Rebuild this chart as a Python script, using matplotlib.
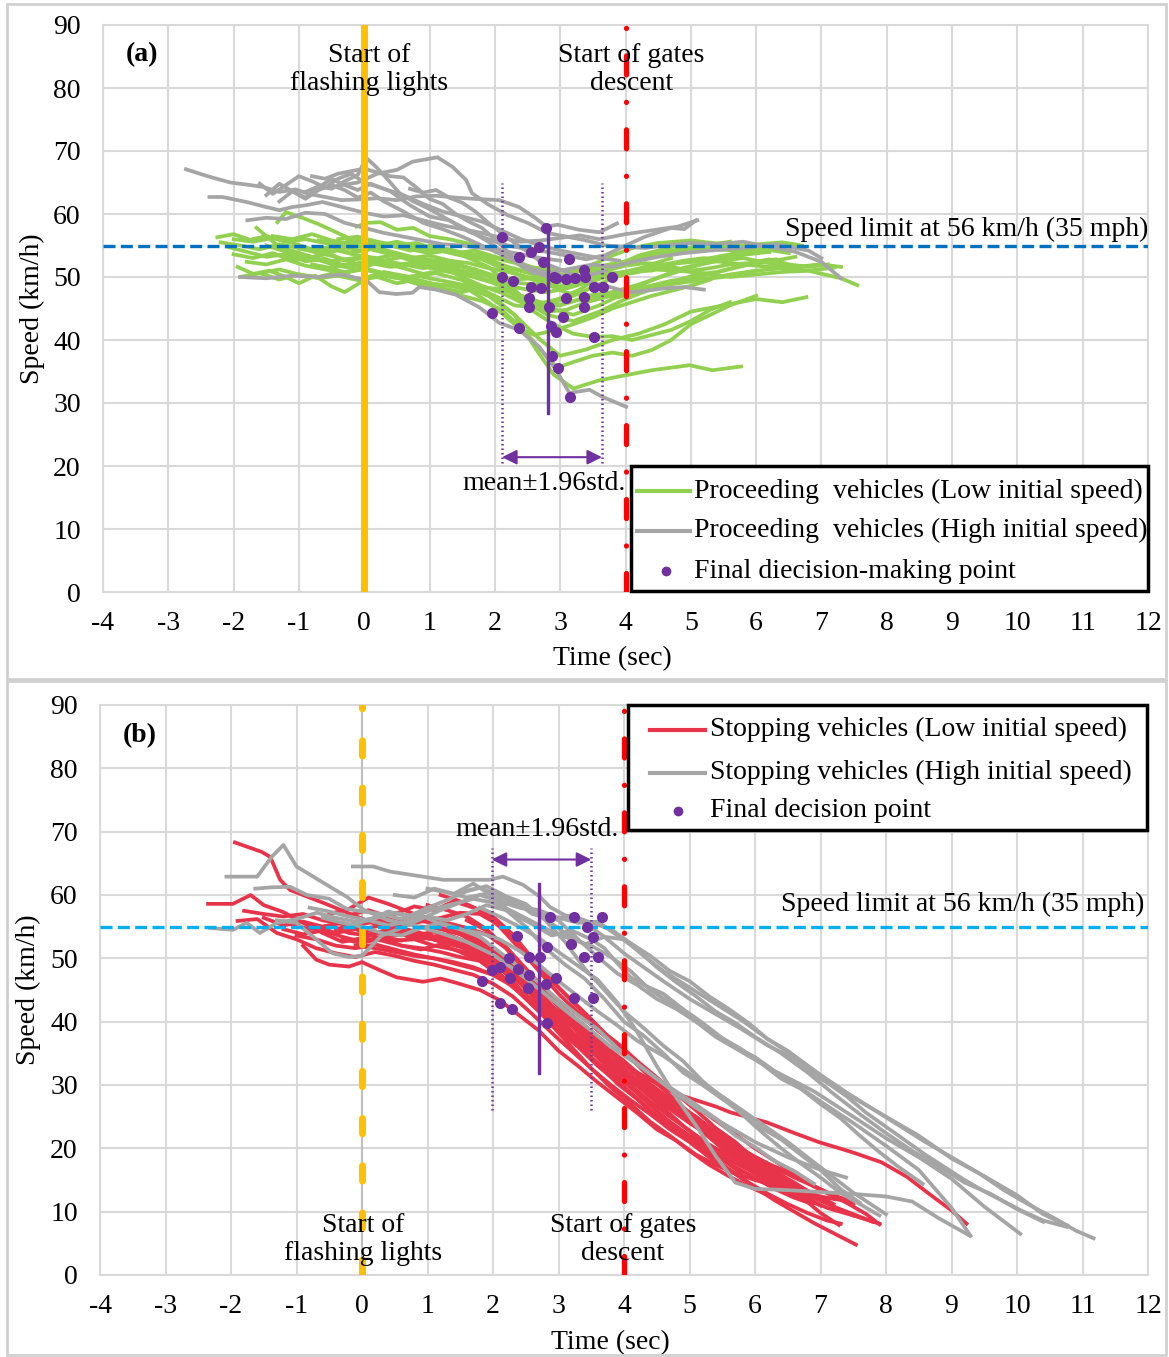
import matplotlib
matplotlib.use('Agg')
import matplotlib.pyplot as plt
from matplotlib.patches import Rectangle

plt.rcParams['font.family'] = ['Liberation Serif', 'DejaVu Serif']
plt.rcParams['font.size'] = 20
plt.rcParams['axes.unicode_minus'] = False

GREEN = '#92D050'
GRAY = '#A5A5A5'
RED_CURVE = '#E8344A'
PURPLE = '#7030A0'
ORANGE = '#FFC000'
RED = '#FF0000'
BLUE = '#0070C0'
LIGHT_BLUE = '#00B0F0'
GRID = '#D9D9D9'

X_TICKS = list(range(-4, 13))
Y_TICKS = list(range(0, 91, 10))

# ---- panel (a): proceeding vehicles, (time s, speed km/h) ----
A_LOW_CURVES = [
    ([-2.25, -2.0, -1.75, -1.5, -1.2, -0.9, -0.5, -0.1, 0.3, 0.8, 1.3, 1.8, 2.2, 2.6, 3.0, 3.5, 4.0, 4.6, 5.2, 5.8, 6.4, 6.7],
     [56.3, 56.8, 55.9, 56.5, 55.6, 56.0, 55.2, 54.8, 55.3, 54.6, 54.0, 53.5, 52.5, 51.5, 51.0, 51.5, 52.5, 53.5, 54.5, 55.0, 55.5, 55.0]),
    ([-2.1, -1.8, -1.5, -1.2, -0.9, -0.6, -0.3, 0.0, 0.4, 0.8, 1.2, 1.6, 2.0, 2.4, 2.8, 3.2, 3.6, 4.0, 4.5, 5.0, 5.5, 6.0, 6.5, 7.0],
     [54.8, 54.0, 53.2, 53.6, 52.5, 52.9, 51.8, 52.4, 51.6, 52.0, 51.0, 50.5, 49.0, 46.5, 44.0, 43.0, 44.5, 46.5, 48.5, 49.5, 50.0, 51.0, 51.5, 52.0]),
    ([-1.94, -1.7, -1.45, -1.2, -1.0, -0.75, -0.5, -0.3, 0.0, 0.3, 0.7, 1.1, 1.5, 1.9, 2.3, 2.6, 2.9, 3.2, 3.6, 4.0, 4.4, 4.98, 5.33, 5.77],
     [51.6, 50.5, 51.0, 50.0, 49.0, 50.2, 48.5, 47.6, 49.5, 50.8, 50.0, 50.6, 49.5, 47.5, 44.0, 39.0, 34.5, 32.3, 33.6, 34.4, 35.2, 36.0, 35.2, 35.8]),
    ([-1.9, -1.6, -1.3, -1.0, -0.7, -0.4, -0.1, 0.2, 0.5, 0.8, 1.1, 1.5, 1.9, 2.3, 2.7, 3.0, 3.4, 3.8, 4.2, 4.6, 5.0, 5.5, 6.0, 6.4, 6.77],
     [50.0, 50.6, 49.6, 50.4, 49.8, 50.2, 49.5, 50.0, 49.0, 49.6, 48.8, 48.5, 47.0, 44.0, 40.0, 37.5, 38.5, 40.0, 41.0, 42.5, 44.5, 45.5, 46.5, 46.0, 46.8]),
    ([-1.33, -1.2, -0.95, -0.7, -0.45, -0.2, 0.1, 0.4, 0.7, 1.0, 1.4, 1.8, 2.2, 2.6, 3.0, 3.4, 3.8, 4.2, 4.7, 5.2, 5.7, 6.2],
     [58.7, 60.3, 59.4, 58.4, 57.2, 56.0, 55.6, 55.0, 54.2, 54.6, 53.6, 52.8, 51.0, 49.5, 48.5, 49.5, 51.5, 53.0, 54.0, 54.5, 54.2, 54.0]),
    ([-1.65, -1.5, -1.3, -1.05, -0.8, -0.55, -0.3, 0.0, 0.3, 0.6, 0.9, 1.2, 1.6, 2.0, 2.4, 2.8, 3.2, 3.6, 4.0, 4.4, 4.9, 5.4],
     [57.8, 56.5, 54.8, 54.0, 53.2, 53.8, 52.6, 53.0, 52.2, 51.4, 50.5, 51.0, 50.2, 49.0, 47.0, 45.2, 44.0, 45.5, 47.5, 49.5, 51.5, 52.5]),
    ([-0.12, 0.05, 0.25, 0.5, 0.75, 1.0, 1.3, 1.6, 1.9, 2.2, 2.5, 2.8, 3.1, 3.4, 3.8, 4.2, 4.6, 5.0, 5.4, 5.8, 6.2],
     [58.0, 58.6, 58.7, 57.5, 57.8, 56.5, 56.0, 55.3, 54.5, 53.2, 51.0, 48.8, 47.5, 47.0, 47.6, 48.8, 50.2, 51.5, 52.8, 53.5, 54.0]),
    ([-2.0, -1.7, -1.4, -1.1, -0.8, -0.5, -0.2, 0.1, 0.4, 0.7, 1.0, 1.3, 1.6, 1.9, 2.2, 2.5, 2.8, 3.1, 3.5, 3.9, 4.3, 4.8, 5.3, 5.8, 6.3, 6.8, 7.3, 7.55],
     [53.6, 53.0, 53.8, 52.6, 53.2, 52.0, 51.4, 52.5, 51.8, 52.2, 51.5, 51.0, 50.6, 49.4, 48.6, 48.0, 47.6, 48.2, 49.4, 50.6, 51.6, 52.2, 52.6, 52.0, 51.5, 51.0, 49.8, 48.7]),
    ([-1.5, -1.2, -0.9, -0.6, -0.3, 0.0, 0.3, 0.6, 0.9, 1.2, 1.5, 1.8, 2.1, 2.4, 2.7, 3.0, 3.3, 3.6, 4.0, 4.4, 4.8, 5.2, 5.6, 6.0, 6.4, 6.8, 7.2],
     [55.0, 54.0, 53.2, 52.4, 52.8, 51.6, 52.6, 52.0, 51.4, 51.8, 51.0, 50.4, 49.8, 49.0, 48.8, 49.2, 50.0, 50.4, 50.8, 51.2, 51.0, 50.6, 50.0, 50.4, 50.8, 51.0, 51.5]),
    ([-1.0, -0.7, -0.4, -0.1, 0.2, 0.5, 0.8, 1.1, 1.4, 1.7, 2.0, 2.3, 2.6, 2.9, 3.2, 3.5, 3.8, 4.1, 4.4, 4.7, 5.0, 5.3, 5.6],
     [54.5, 54.0, 55.0, 54.2, 54.6, 53.8, 53.0, 52.6, 52.0, 51.2, 49.5, 47.0, 44.5, 42.5, 41.0, 40.5, 40.6, 40.0, 40.8, 41.6, 43.0, 44.8, 46.0]),
    ([-1.4, -1.1, -0.8, -0.5, -0.2, 0.1, 0.4, 0.7, 1.0, 1.3, 1.6, 1.9, 2.2, 2.5, 2.8, 3.1, 3.4, 3.7, 4.0, 4.4, 4.8, 5.2, 5.6, 6.0],
     [56.5, 56.0, 56.8, 55.8, 55.2, 55.8, 55.0, 54.4, 53.8, 54.2, 53.0, 51.6, 49.0, 46.0, 44.5, 44.8, 46.0, 46.8, 47.6, 48.6, 49.0, 49.6, 50.4, 51.0]),
    ([-2.2, -1.9, -1.6, -1.3, -1.0, -0.7, -0.4, -0.1, 0.2, 0.5, 0.8, 1.1, 1.4, 1.7, 2.0, 2.3, 2.6, 2.9, 3.2, 3.5, 3.8, 4.1, 4.5, 5.0, 5.5, 6.0, 6.5],
     [55.5, 55.0, 54.4, 55.2, 54.6, 53.8, 54.2, 53.4, 53.0, 53.6, 52.8, 52.4, 51.8, 51.2, 50.2, 49.6, 49.8, 50.0, 50.8, 52.0, 53.4, 54.6, 55.4, 55.8, 55.2, 54.6, 53.8]),
    ([-0.6, -0.3, 0.0, 0.3, 0.6, 0.9, 1.2, 1.5, 1.8, 2.1, 2.4, 2.7, 2.95, 3.2, 3.5, 3.8, 4.1, 4.4, 4.7, 5.0, 5.3, 5.6, 6.0],
     [51.5, 50.8, 51.2, 50.4, 49.6, 48.6, 47.8, 47.0, 46.2, 44.8, 42.0, 38.5, 35.6, 36.5, 37.5, 38.0, 37.5, 38.4, 40.0, 42.5, 44.0, 45.5, 47.0]),
    ([0.6, 0.9, 1.2, 1.5, 1.8, 2.1, 2.4, 2.7, 3.0, 3.3, 3.6, 3.9, 4.2, 4.5, 4.8, 5.1, 5.4, 5.7, 6.0, 6.3],
     [53.0, 52.0, 51.4, 50.0, 48.6, 47.5, 46.0, 45.2, 45.5, 46.5, 47.2, 46.8, 47.8, 48.8, 49.5, 50.4, 50.8, 51.6, 52.4, 52.8]),
    ([-1.8, -1.5, -1.2, -0.9, -0.6, -0.3, 0.0, 0.3, 0.6, 0.9, 1.2, 1.5, 1.8, 2.1, 2.4, 2.7, 3.0, 3.3, 3.6, 3.9, 4.3, 4.7, 5.1, 5.5, 5.9, 6.3, 6.6],
     [52.4, 52.0, 52.8, 51.8, 51.2, 50.6, 51.4, 50.6, 49.8, 49.0, 48.2, 47.6, 48.4, 48.0, 47.0, 46.0, 45.6, 46.4, 46.8, 47.8, 48.4, 49.4, 50.0, 51.0, 52.0, 52.6, 53.2]),
    ([-1.2, -0.9, -0.6, -0.3, 0.0, 0.3, 0.6, 0.9, 1.2, 1.5, 1.8, 2.1, 2.4, 2.7, 3.0, 3.3, 3.6, 3.9, 4.2, 4.5, 4.8, 5.1],
     [53.2, 52.8, 53.6, 52.8, 53.2, 52.6, 53.2, 52.4, 51.6, 51.8, 50.6, 49.2, 47.0, 45.8, 46.6, 48.0, 50.0, 52.0, 53.4, 54.2, 55.0, 55.6]),
    ([-0.4, -0.1, 0.2, 0.5, 0.8, 1.1, 1.4, 1.7, 2.0, 2.3, 2.6, 2.9, 3.2, 3.5, 3.8, 4.1, 4.4, 4.7, 5.0, 5.3, 5.6, 5.9, 6.2, 6.5],
     [56.0, 56.4, 55.6, 55.0, 55.4, 54.4, 53.8, 54.2, 53.2, 52.6, 51.4, 50.4, 49.8, 49.6, 50.4, 51.0, 51.0, 52.0, 52.6, 53.0, 53.6, 54.2, 54.6, 55.0]),
    ([-0.8, -0.5, -0.2, 0.1, 0.4, 0.7, 1.0, 1.3, 1.6, 1.9, 2.1, 2.37, 2.6, 2.9, 3.2, 3.5, 3.8, 4.1, 4.4, 4.7, 5.0, 5.3],
     [52.0, 51.4, 52.2, 51.0, 50.4, 49.8, 49.0, 48.6, 48.0, 46.0, 44.3, 41.9, 40.8, 41.5, 42.5, 43.6, 45.0, 46.0, 47.0, 47.8, 48.6, 49.6]),
    ([-2.0, -1.7, -1.4, -1.1, -0.8, -0.5, -0.2, 0.1, 0.4, 0.7, 1.0, 1.3, 1.6, 1.9, 2.2, 2.5, 2.8, 3.1, 3.4, 3.7, 4.0, 4.4, 4.8, 5.2, 5.6],
     [56.0, 55.6, 56.2, 55.4, 54.4, 54.8, 53.8, 54.4, 53.6, 53.0, 53.4, 52.6, 52.2, 51.4, 50.8, 50.0, 49.6, 49.8, 50.4, 51.4, 52.4, 53.4, 54.4, 55.0, 55.6]),
    ([1.0, 1.3, 1.6, 1.9, 2.2, 2.5, 2.8, 3.1, 3.4, 3.7, 4.0, 4.3, 4.6, 4.9, 5.2, 5.5, 5.8, 6.1, 6.4, 6.7, 7.0, 7.3],
     [55.0, 54.4, 53.6, 52.8, 51.6, 50.8, 50.2, 50.4, 51.2, 51.0, 51.8, 52.2, 52.0, 52.6, 53.0, 52.6, 53.0, 52.4, 51.8, 51.6, 52.0, 51.6]),
    ([-1.6, -1.3, -1.0, -0.7, -0.4, -0.1, 0.2, 0.5, 0.8, 1.1, 1.4, 1.7, 2.0, 2.3, 2.6, 2.9, 3.2, 3.5, 3.8, 4.1, 4.4, 4.7],
     [50.6, 51.2, 50.4, 50.0, 50.8, 49.6, 50.4, 49.8, 50.2, 49.6, 49.0, 48.4, 47.0, 45.5, 45.2, 46.0, 47.0, 48.4, 49.8, 50.8, 52.0, 53.0]),
    ([-0.7, -0.4, -0.1, 0.2, 0.5, 0.8, 1.1, 1.4, 1.7, 2.0, 2.3, 2.6, 2.9, 3.2, 3.5, 3.8, 4.1, 4.4, 4.7, 5.0, 5.3, 5.6, 5.9, 6.2, 6.5, 6.8, 7.1],
     [55.8, 55.2, 56.0, 55.0, 55.6, 54.8, 54.6, 54.0, 53.4, 52.2, 51.2, 50.4, 50.0, 49.8, 50.2, 50.2, 50.6, 51.2, 51.6, 51.0, 51.4, 52.0, 52.2, 52.8, 52.0, 51.6, 52.0]),
]

A_HIGH_CURVES = [
    ([-2.73, -2.4, -2.05, -1.75, -1.55, -1.3, -1.05, -0.85, -0.6, -0.35, -0.1, 0.2, 0.5, 0.8, 1.1, 1.4, 1.7, 2.07, 2.37, 2.6, 2.79, 2.96, 3.29, 3.6, 3.87],
     [67.1, 66.0, 65.0, 64.6, 64.3, 63.5, 63.9, 63.2, 62.7, 62.2, 62.3, 62.5, 62.2, 62.8, 62.9, 62.6, 62.4, 62.2, 61.1, 59.5, 58.0, 58.3, 57.5, 57.1, 58.5]),
    ([-2.37, -2.17, -1.8, -1.5, -1.3, -1.1, -0.89, -0.64, -0.3, 0.0, 0.3, 0.6, 0.9, 1.2, 1.5, 1.8, 2.1, 2.4, 2.7, 3.0, 3.3, 3.6, 4.0, 4.4, 4.8, 5.1],
     [62.7, 62.7, 61.9, 61.1, 60.6, 61.1, 61.4, 61.9, 61.0, 60.2, 59.6, 59.8, 59.0, 58.2, 57.6, 57.0, 56.2, 55.6, 55.8, 56.2, 56.6, 56.0, 56.8, 57.4, 58.0, 59.0]),
    ([-1.79, -1.5, -1.2, -0.9, -0.6, -0.3, 0.0, 0.3, 0.6, 0.9, 1.2, 1.5, 1.8, 2.1, 2.4, 2.7, 3.0],
     [59.0, 59.4, 59.2, 60.2, 60.0, 58.6, 57.8, 57.0, 56.4, 55.8, 55.2, 55.0, 54.6, 54.2, 53.6, 53.0, 52.6]),
    ([-1.9, -1.5, -1.1, -0.7, -0.35, 0.03, 0.23, 0.49, 0.74, 0.84, 1.1, 1.4, 1.76, 2.07, 2.37, 2.68, 2.94, 3.14, 3.45, 3.64, 4.01],
     [50.0, 49.8, 50.2, 50.0, 50.4, 49.5, 47.6, 47.3, 47.5, 48.4, 48.0, 47.2, 45.2, 42.7, 41.6, 38.9, 35.2, 31.6, 32.1, 31.0, 29.4]),
    ([-0.9, -0.7, -0.5, -0.3, -0.1, 0.03, 0.18, 0.35, 0.54, 0.75, 1.0, 1.3, 1.6, 1.9, 2.2, 2.5, 2.8, 3.1, 3.4, 3.7, 4.0, 4.3, 4.7, 4.9, 5.08],
     [63.5, 64.4, 64.0, 65.2, 66.2, 68.9, 67.5, 65.6, 63.3, 62.0, 60.8, 59.0, 57.2, 56.0, 55.0, 54.4, 54.0, 53.4, 52.8, 53.5, 55.0, 56.4, 57.8, 57.6, 59.0]),
    ([-0.4, -0.1, 0.2, 0.5, 0.74, 0.9, 1.12, 1.35, 1.56, 1.65, 1.9, 2.2, 2.5, 2.8, 3.1, 3.4, 3.7, 4.0, 4.3, 4.6, 5.0, 5.4, 5.8, 6.2, 6.6, 7.0, 7.3],
     [64.5, 65.0, 66.4, 67.0, 68.3, 68.6, 69.0, 67.5, 65.4, 63.3, 61.5, 59.8, 58.6, 57.0, 56.4, 55.8, 55.0, 54.8, 54.6, 55.0, 55.4, 55.2, 55.6, 54.8, 54.0, 52.4, 49.8]),
    ([-1.6, -1.4, -1.2, -1.0, -0.8, -0.6, -0.4, -0.2, 0.0, 0.3, 0.6, 0.9, 1.2, 1.5, 1.8, 2.1, 2.4, 2.7, 3.0, 3.3, 3.6, 3.9],
     [64.8, 63.2, 64.6, 66.0, 65.2, 64.2, 65.6, 66.4, 65.0, 64.0, 63.0, 61.6, 60.4, 59.6, 58.8, 57.4, 56.0, 55.0, 54.2, 53.6, 53.0, 52.6]),
    ([-1.3, -1.1, -0.9, -0.7, -0.5, -0.3, -0.1, 0.1, 0.4, 0.7, 1.0, 1.3, 1.6, 1.9, 2.2, 2.5, 2.8, 3.1, 3.4, 3.7],
     [62.0, 63.6, 62.6, 64.2, 65.6, 64.6, 63.8, 64.8, 63.6, 61.4, 59.6, 59.0, 57.4, 55.6, 53.4, 51.6, 50.6, 50.0, 50.2, 51.0]),
    ([-0.8, -0.6, -0.4, -0.2, 0.0, 0.2, 0.4, 0.6, 0.8, 1.0, 1.2, 1.4, 1.6, 1.8, 2.0, 2.2, 2.4, 2.6, 2.9, 3.2, 3.5, 3.8, 4.1, 4.5, 4.9, 5.3, 5.8, 6.3, 6.8, 7.0],
     [66.0, 65.6, 66.4, 66.8, 67.2, 66.6, 66.0, 65.8, 64.2, 62.4, 61.6, 60.0, 58.8, 57.8, 56.0, 54.0, 51.8, 50.6, 50.8, 51.4, 52.0, 51.6, 52.4, 53.2, 53.8, 54.2, 54.6, 55.2, 54.2, 53.0]),
    ([0.7, 0.9, 1.1, 1.3, 1.5, 1.7, 1.9, 2.1, 2.3, 2.5, 2.7, 2.9, 3.1, 3.3, 3.5, 3.7, 3.9, 4.1, 4.3, 4.6, 4.9, 5.2],
     [64.0, 63.4, 63.8, 62.6, 61.8, 60.4, 58.6, 57.0, 55.4, 54.0, 52.4, 51.6, 50.8, 49.8, 49.0, 48.6, 48.0, 47.6, 47.8, 48.2, 48.4, 48.0]),
    ([-1.5, -1.3, -1.1, -0.9, -0.7, -0.5, -0.3, -0.1, 0.1, 0.3, 0.6, 0.9, 1.2, 1.5, 1.8, 2.1, 2.4, 2.7, 3.0],
     [63.0, 64.8, 63.6, 62.4, 63.8, 64.6, 63.8, 62.6, 63.4, 62.0, 60.4, 58.6, 57.6, 56.4, 55.0, 53.6, 52.0, 50.4, 49.6]),
]

A_DOT_T = [2.11, 2.79, 2.37, 2.55, 2.68, 2.73, 3.14, 2.11, 2.27, 2.55, 2.71, 2.94, 3.09, 3.23, 3.37, 3.38, 3.52, 3.66,
           3.80, 2.53, 2.53, 2.83, 3.09, 3.37, 3.37, 3.05, 2.86, 2.94, 2.37, 3.52, 2.88, 2.96, 3.15, 1.96, 2.91]
A_DOT_V = [56.3, 57.8, 53.2, 54.0, 54.8, 52.4, 52.8, 50.0, 49.4, 48.4, 48.2, 49.8, 49.7, 49.9, 51.1, 50.0, 48.4, 48.4,
           50.0, 46.7, 45.2, 45.2, 46.7, 46.8, 45.2, 43.7, 42.2, 41.3, 41.9, 40.5, 37.5, 35.6, 31.0, 44.3, 50.0]
A_MEAN, A_LO, A_HI = 2.82, 2.11, 3.64
A_LABELS = ['Proceeding  vehicles (Low initial speed)', 'Proceeding  vehicles (High initial speed)',
            'Final diecision-making point']

# ---- panel (b): stopping vehicles ----
B_LOW_CURVES = [
    ([-1.94, -1.53, -1.4, -1.25, -1.1, -0.6, -0.08, 0.3, 0.7, 1.1, 1.5, 1.9, 2.2, 2.5, 2.8, 3.1, 3.4, 3.7, 4.0, 4.3, 4.6, 4.9, 5.2, 5.5, 5.8, 6.1, 6.4, 6.7, 7.0],
     [68.3, 66.8, 66.0, 62.4, 60.8, 58.8, 56.6, 55.0, 53.6, 53.0, 52.4, 50.6, 48.8, 46.0, 43.0, 40.4, 37.6, 35.0, 32.2, 29.6, 27.4, 25.0, 22.6, 20.0, 18.0, 16.2, 14.0, 12.2, 11.0]),
    ([-2.35, -1.97, -1.7, -1.5, -1.2, -0.9, -0.6, -0.3, 0.0, 0.3, 0.6, 0.9, 1.2, 1.5, 1.8, 2.1, 2.4, 2.7, 3.0, 3.3, 3.6, 3.9, 4.2, 4.5, 4.8, 5.1, 5.4, 5.7, 6.0, 6.3, 6.6, 6.9, 7.2, 7.54],
     [58.6, 58.6, 60.0, 58.4, 57.3, 55.6, 54.0, 52.6, 53.2, 52.8, 52.0, 51.6, 51.0, 50.2, 49.6, 47.6, 44.6, 41.8, 39.0, 36.4, 33.4, 30.2, 27.8, 25.0, 22.6, 20.4, 18.2, 16.0, 13.8, 11.8, 10.0, 8.2, 6.6, 4.8]),
    ([-1.8, -1.5, -1.2, -0.9, -0.6, -0.3, 0.0, 0.3, 0.6, 0.9, 1.2, 1.5, 1.8, 2.1, 2.4, 2.7, 3.0, 3.3, 3.6, 3.9, 4.2, 4.5, 4.8, 5.1, 5.4, 5.7, 6.0, 6.3, 6.6, 6.9, 7.2, 7.5, 7.9],
     [57.5, 57.0, 56.6, 57.0, 56.0, 55.4, 54.6, 55.2, 54.4, 53.4, 52.8, 52.2, 51.0, 49.0, 46.2, 43.4, 40.2, 37.6, 35.0, 32.6, 30.0, 27.8, 26.0, 24.0, 22.0, 20.2, 18.4, 16.4, 14.6, 12.6, 10.8, 9.4, 8.1]),
    ([-1.9, -1.6, -1.3, -1.0, -0.7, -0.4, -0.1, 0.2, 0.5, 0.8, 1.1, 1.4, 1.7, 2.0, 2.3, 2.6, 2.9, 3.2, 3.5, 3.8, 4.1, 4.4, 4.7, 5.0, 5.3, 5.6, 5.9, 6.2, 6.5, 6.8, 7.1, 7.31],
     [55.9, 56.2, 54.0, 53.0, 51.6, 50.8, 50.2, 51.0, 50.4, 49.6, 49.0, 48.2, 47.4, 46.0, 44.0, 41.2, 38.2, 35.4, 32.6, 30.0, 27.6, 25.4, 23.0, 21.0, 18.6, 16.6, 14.6, 12.8, 11.2, 9.8, 8.6, 8.1]),
    ([-0.9, -0.7, -0.5, -0.2, 0.0, 0.3, 0.53, 0.93, 1.2, 1.45, 1.8, 2.1, 2.4, 2.7, 3.0, 3.3, 3.6, 3.9, 4.2, 4.5, 4.8, 5.1, 5.4, 5.7, 6.0, 6.4],
     [52.0, 49.8, 49.0, 48.7, 49.4, 48.0, 47.0, 46.3, 46.8, 46.1, 45.0, 43.4, 41.0, 38.6, 35.4, 33.0, 30.4, 28.0, 25.6, 23.0, 21.2, 19.0, 17.4, 16.0, 15.0, 13.8]),
    ([-1.2, -0.9, -0.6, -0.3, 0.0, 0.3, 0.6, 0.9, 1.2, 1.5, 1.8, 2.1, 2.4, 2.7, 3.0, 3.3, 3.6, 3.9, 4.2, 4.5, 4.8, 5.1, 5.4, 5.62, 6.18, 6.63, 6.97, 7.48, 7.93, 8.32, 8.66, 9.0, 9.23],
     [54.6, 53.8, 54.4, 53.4, 52.6, 53.4, 52.8, 53.6, 52.6, 51.8, 50.4, 48.8, 46.4, 43.6, 40.8, 38.6, 36.4, 34.2, 32.0, 30.2, 28.6, 27.6, 26.6, 25.7, 24.1, 22.3, 21.0, 19.4, 17.8, 15.5, 12.8, 10.2, 8.1]),
    ([-0.5, -0.2, 0.1, 0.4, 0.7, 1.0, 1.3, 1.6, 1.9, 2.2, 2.5, 2.8, 3.1, 3.4, 3.7, 4.0, 4.3, 4.6, 4.9, 5.2, 5.5, 5.8, 6.1, 6.44],
     [57.0, 57.8, 59.6, 58.6, 57.4, 56.2, 55.6, 54.8, 53.8, 51.6, 48.2, 45.0, 41.8, 38.8, 36.0, 33.2, 30.8, 28.4, 26.0, 23.6, 21.4, 19.4, 17.6, 16.2]),
    ([0.0, 0.3, 0.6, 0.9, 1.2, 1.5, 1.8, 2.1, 2.4, 2.7, 3.0, 3.3, 3.6, 3.9, 4.2, 4.5, 4.8, 5.1, 5.4, 5.7, 6.0, 6.3, 6.6, 6.9, 7.2, 7.5],
     [55.4, 56.0, 55.0, 55.8, 56.4, 57.2, 57.0, 55.2, 52.0, 48.6, 45.4, 42.2, 39.0, 36.6, 33.8, 31.2, 28.6, 26.0, 23.2, 21.0, 18.2, 15.8, 14.0, 12.6, 12.0, 11.6]),
    ([-1.1, -0.8, -0.5, -0.2, 0.1, 0.4, 0.7, 1.0, 1.3, 1.6, 1.9, 2.2, 2.5, 2.8, 3.1, 3.4, 3.7, 4.0, 4.3, 4.6, 4.9, 5.2, 5.5, 5.8, 6.1, 6.4, 6.7, 7.0, 7.28],
     [55.4, 54.6, 55.2, 54.0, 53.6, 54.4, 54.0, 53.2, 53.8, 52.6, 51.0, 49.4, 47.0, 44.6, 41.8, 39.4, 36.2, 33.8, 31.0, 28.0, 25.6, 23.4, 21.0, 19.0, 17.0, 14.8, 12.4, 9.8, 7.9]),
    ([-0.3, 0.0, 0.3, 0.6, 0.9, 1.2, 1.5, 1.8, 2.1, 2.4, 2.7, 3.0, 3.3, 3.6, 3.9, 4.2, 4.5, 4.8, 5.1, 5.4, 5.7, 6.0, 6.3, 6.6, 6.88],
     [53.0, 52.4, 53.2, 52.0, 51.4, 52.2, 51.0, 49.6, 47.2, 44.6, 41.6, 38.6, 36.0, 33.0, 30.4, 27.8, 25.2, 23.0, 21.0, 19.0, 17.0, 15.4, 13.6, 12.2, 11.2]),
    ([-1.5, -1.2, -0.9, -0.6, -0.3, 0.0, 0.3, 0.6, 0.9, 1.2, 1.5, 1.8, 2.1, 2.4, 2.7, 3.0, 3.3, 3.6, 3.9, 4.2, 4.5, 4.8, 5.1, 5.4, 5.7, 6.0, 6.3, 6.6, 6.9, 7.2, 7.5],
     [56.4, 55.2, 55.8, 55.0, 55.6, 54.6, 54.0, 54.8, 54.0, 53.2, 52.4, 50.6, 48.8, 46.8, 44.0, 41.6, 39.2, 36.8, 34.0, 31.6, 29.4, 27.0, 25.0, 22.6, 20.6, 18.6, 17.0, 15.4, 14.0, 12.6, 11.5]),
    ([0.2, 0.5, 0.8, 1.1, 1.4, 1.7, 2.0, 2.3, 2.6, 2.9, 3.2, 3.5, 3.8, 4.1, 4.4, 4.7, 5.0, 5.3, 5.6, 5.9, 6.2, 6.5],
     [54.0, 54.8, 56.0, 55.6, 54.2, 53.0, 51.2, 48.2, 45.0, 41.6, 38.4, 35.4, 32.2, 29.6, 26.8, 24.2, 22.0, 20.0, 18.2, 16.6, 14.8, 13.6]),
    ([0.5, 0.8, 1.1, 1.4, 1.7, 2.0, 2.3, 2.6, 2.9, 3.2, 3.5, 3.8, 4.1, 4.4, 4.7, 5.0, 5.3, 5.6, 5.9, 6.2, 6.5, 6.8, 7.1, 7.4, 7.7, 7.9],
     [57.0, 58.2, 57.6, 59.0, 58.0, 56.6, 53.8, 50.0, 46.4, 43.4, 40.4, 37.2, 34.2, 31.2, 28.4, 25.6, 23.0, 21.2, 19.2, 17.6, 16.2, 14.6, 13.0, 11.4, 9.6, 8.0]),
    ([-0.7, -0.4, -0.1, 0.2, 0.5, 0.8, 1.1, 1.4, 1.7, 2.0, 2.3, 2.6, 2.9, 3.2, 3.5, 3.8, 4.1, 4.4, 4.7, 5.0, 5.3, 5.6, 5.9, 6.2, 6.5, 6.8, 7.1, 7.5],
     [55.0, 54.0, 54.6, 53.4, 52.8, 53.0, 52.0, 51.4, 50.6, 49.0, 47.4, 45.0, 42.4, 39.6, 36.8, 34.2, 31.6, 29.0, 26.4, 24.2, 22.0, 19.8, 17.6, 15.6, 13.8, 12.0, 10.6, 9.4]),
    ([0.8, 1.1, 1.4, 1.7, 2.0, 2.3, 2.6, 2.9, 3.2, 3.5, 3.8, 4.1, 4.4, 4.7, 5.0, 5.3, 5.6, 5.9, 6.2],
     [53.6, 53.0, 52.4, 51.4, 49.6, 46.4, 43.0, 39.4, 36.0, 32.6, 29.6, 27.0, 24.2, 22.0, 19.6, 17.4, 15.6, 14.0, 12.6]),
    ([-0.2, 0.1, 0.4, 0.7, 1.0, 1.3, 1.6, 1.9, 2.2, 2.5, 2.8, 3.1, 3.4, 3.7, 4.0, 4.3, 4.6, 4.9, 5.2, 5.5, 5.8, 6.1, 6.4, 6.7, 7.0],
     [56.8, 57.6, 56.6, 55.8, 56.2, 55.0, 53.8, 52.2, 49.8, 46.6, 43.2, 40.2, 37.4, 34.6, 32.0, 29.4, 27.2, 25.0, 22.6, 20.4, 18.2, 16.4, 14.6, 12.8, 11.0]),
    ([1.2, 1.5, 1.8, 2.1, 2.4, 2.7, 3.0, 3.3, 3.6, 3.9, 4.2, 4.5, 4.8, 5.1, 5.4, 5.7, 6.0, 6.3, 6.6, 6.9, 7.2, 7.5],
     [60.0, 59.0, 57.6, 55.0, 51.6, 48.0, 44.4, 41.4, 38.6, 36.2, 33.6, 31.0, 28.6, 26.6, 24.4, 22.2, 20.0, 18.0, 16.0, 14.0, 12.4, 11.0]),
    ([-0.1, 0.2, 0.5, 0.8, 1.1, 1.4, 1.7, 2.0, 2.3, 2.6, 2.9, 3.2, 3.5, 3.8, 4.1, 4.4, 4.7, 5.0, 5.3, 5.6, 5.9, 6.2, 6.5, 6.8],
     [52.0, 51.6, 51.0, 50.4, 50.0, 49.4, 48.6, 47.4, 45.8, 43.4, 40.6, 37.4, 34.4, 31.6, 28.8, 26.0, 23.6, 21.6, 19.4, 17.6, 15.8, 14.2, 13.0, 12.0]),
    ([-1.0, -0.7, -0.4, -0.1, 0.2, 0.5, 0.8, 1.1, 1.4, 1.7, 2.0, 2.3, 2.6, 2.9, 3.2, 3.5, 3.8, 4.1, 4.4, 4.7, 5.0, 5.3, 5.6, 5.9, 6.2, 6.5, 6.8, 7.1],
     [53.6, 53.0, 52.0, 51.6, 52.2, 51.4, 50.6, 50.0, 49.2, 48.4, 47.4, 45.6, 43.2, 40.6, 37.8, 35.2, 33.0, 30.6, 28.4, 26.2, 24.0, 22.0, 20.0, 18.0, 16.2, 14.6, 13.0, 11.6]),
    ([0.9, 1.2, 1.5, 1.8, 2.1, 2.4, 2.7, 3.0, 3.3, 3.6, 3.9, 4.2, 4.5, 4.8, 5.1, 5.4, 5.7, 6.0, 6.3, 6.6, 6.9, 7.2],
     [55.0, 54.6, 53.8, 52.0, 49.4, 46.2, 43.0, 40.0, 37.2, 34.8, 32.4, 30.2, 28.0, 26.0, 24.0, 22.0, 20.0, 18.0, 16.0, 14.4, 12.8, 11.2]),
    ([1.6, 1.9, 2.2, 2.5, 2.8, 3.1, 3.4, 3.7, 4.0, 4.3, 4.6, 4.9, 5.2, 5.5, 5.8, 6.1, 6.4, 6.7, 7.0],
     [56.0, 54.4, 51.8, 48.4, 45.0, 42.0, 39.0, 36.0, 33.4, 30.6, 28.0, 25.6, 23.2, 20.8, 18.4, 16.4, 14.6, 13.2, 12.0]),
    ([-0.4, -0.1, 0.2, 0.5, 0.8, 1.1, 1.4, 1.7, 2.0, 2.3, 2.6, 2.9, 3.2, 3.5, 3.8, 4.1, 4.4, 4.7, 5.0, 5.3, 5.6, 5.9, 6.2, 6.5],
     [54.6, 55.4, 54.0, 54.6, 53.6, 54.2, 53.0, 52.0, 50.0, 47.2, 44.2, 41.0, 38.2, 35.4, 32.8, 30.0, 27.4, 25.0, 22.8, 20.6, 18.8, 17.0, 15.4, 14.0]),
    ([0.3, 0.6, 0.9, 1.2, 1.5, 1.8, 2.1, 2.4, 2.7, 3.0, 3.3, 3.6, 3.9, 4.2, 4.5, 4.8, 5.1, 5.4, 5.7, 6.0, 6.3, 6.6, 6.9, 7.2, 7.5, 7.8],
     [53.2, 53.8, 53.0, 53.6, 52.6, 51.8, 50.2, 47.8, 44.8, 41.4, 38.4, 35.6, 33.2, 30.8, 28.6, 26.4, 24.0, 21.6, 19.6, 17.6, 15.6, 13.8, 12.2, 10.8, 9.6, 8.4]),
    ([1.0, 1.3, 1.6, 1.9, 2.2, 2.5, 2.8, 3.1, 3.4, 3.7, 4.0, 4.3, 4.6, 4.9, 5.2, 5.5, 5.8],
     [58.4, 57.6, 56.6, 54.6, 51.6, 48.0, 44.6, 41.2, 38.0, 35.0, 32.0, 29.0, 26.4, 23.6, 21.0, 18.2, 16.0]),
]

B_HIGH_CURVES = [
    ([-2.07, -1.6, -1.38, -1.2, -1.0, -0.84, -0.49, -0.23, 0.02, 0.4, 0.8, 1.2, 1.6, 2.0, 2.3, 2.6, 2.9, 3.2, 3.5, 3.8, 4.1, 4.5, 5.0, 5.5, 6.0, 6.5, 7.0, 7.39],
     [62.9, 62.9, 66.0, 67.9, 64.5, 63.5, 61.3, 59.7, 57.7, 56.0, 55.2, 54.0, 52.6, 50.6, 48.4, 46.0, 43.5, 41.0, 38.6, 36.0, 34.0, 31.0, 27.6, 24.0, 21.0, 18.6, 16.6, 15.4]),
    ([-1.63, -1.4, -1.1, -0.84, -0.5, -0.23, 0.0, 0.3, 0.6, 0.9, 1.2, 1.5, 1.8, 2.1, 2.4, 2.7, 3.0, 3.3, 3.6, 3.9, 4.2, 4.6, 5.0, 5.5, 6.0, 6.5, 7.0, 7.5, 8.0],
     [61.0, 61.2, 61.3, 60.0, 59.4, 57.8, 57.4, 57.0, 56.2, 56.8, 55.4, 54.6, 54.0, 53.0, 51.2, 49.0, 46.4, 44.0, 41.6, 39.4, 37.0, 34.6, 31.8, 28.2, 24.6, 21.0, 17.0, 13.0, 9.6]),
    ([-0.14, 0.17, 0.43, 0.93, 1.24, 1.7, 1.95, 2.15, 2.46, 2.72, 2.87, 3.1, 3.4, 3.7, 4.0, 4.3, 4.6, 5.0, 5.4, 5.8, 6.2, 6.6, 7.0, 7.5, 8.0, 8.5, 9.0, 9.5, 10.0, 10.4, 10.77],
     [64.5, 64.5, 63.7, 62.9, 62.4, 62.4, 62.4, 62.9, 61.6, 59.7, 58.1, 56.8, 55.6, 53.4, 50.8, 48.6, 46.4, 43.6, 41.2, 38.8, 36.2, 34.2, 31.0, 28.0, 25.0, 22.0, 18.4, 15.6, 12.6, 9.6, 7.8]),
    ([-2.32, -1.97, -1.76, -1.56, -1.3, -1.0, -0.69, -0.4, -0.1, 0.2, 0.5, 0.8, 1.1, 1.4, 1.7, 2.0, 2.3, 2.6, 2.9, 3.2, 3.5, 3.8, 4.1, 4.4, 4.7, 5.0, 5.4, 5.8, 6.2, 6.6, 7.0, 7.5, 8.0, 8.5, 9.0, 9.29],
     [54.8, 54.5, 55.6, 54.0, 55.6, 56.2, 57.2, 56.4, 55.8, 56.4, 57.2, 56.6, 57.8, 58.6, 59.4, 58.8, 57.4, 55.8, 54.2, 53.0, 52.0, 50.2, 48.0, 45.0, 43.0, 40.8, 37.6, 35.2, 32.8, 30.2, 27.4, 24.0, 20.4, 16.6, 10.6, 6.2]),
    ([-1.3, -1.0, -0.7, -0.45, -0.2, 0.0, 0.3, 0.6, 0.9, 1.2, 1.5, 1.8, 2.1, 2.4, 2.7, 3.0, 3.3, 3.6, 3.9, 4.2, 4.5, 4.8, 5.1, 5.4, 5.7, 6.0, 6.3, 6.6, 6.9, 7.2, 7.5, 8.0, 8.5, 9.0, 9.5, 10.05],
     [56.0, 55.6, 53.0, 50.8, 50.2, 50.4, 53.6, 54.8, 56.2, 57.6, 58.8, 60.0, 59.0, 58.0, 57.4, 56.0, 53.0, 50.2, 47.6, 45.8, 43.6, 42.0, 40.0, 38.0, 36.0, 34.4, 32.2, 30.6, 29.0, 27.0, 25.0, 21.6, 18.6, 15.2, 10.8, 6.5]),
    ([0.5, 0.8, 1.1, 1.4, 1.7, 2.0, 2.3, 2.6, 2.9, 3.2, 3.5, 3.7, 3.9, 4.1, 4.3, 4.6, 4.9, 5.2, 5.5, 5.8, 6.1, 6.4, 6.7, 7.0, 7.3, 7.6, 7.9, 8.2, 8.56],
     [60.0, 59.6, 61.0, 60.2, 61.8, 59.8, 57.0, 55.4, 53.6, 54.4, 53.0, 51.6, 49.2, 47.0, 45.8, 44.4, 42.0, 39.8, 37.4, 35.6, 33.4, 31.0, 29.4, 27.0, 24.8, 22.0, 19.4, 17.0, 14.4]),
    ([1.0, 1.3, 1.6, 1.9, 2.2, 2.5, 2.8, 3.1, 3.4, 3.7, 4.0, 4.3, 4.6, 5.0, 5.4, 5.8, 6.2, 6.6, 7.0, 7.4, 7.8, 8.2, 8.6, 9.0, 9.4, 9.8, 10.2, 10.6, 10.9, 11.17],
     [61.0, 60.4, 59.6, 60.2, 58.6, 58.4, 56.2, 54.0, 52.2, 53.4, 53.0, 50.4, 48.0, 45.4, 42.8, 40.2, 37.2, 34.6, 31.6, 28.8, 26.2, 23.6, 21.0, 18.6, 16.2, 13.4, 11.0, 8.8, 7.0, 5.8]),
    ([1.5, 1.8, 2.1, 2.4, 2.7, 3.0, 3.3, 3.6, 3.9, 4.2, 4.5, 4.8, 5.1, 5.4, 5.7, 6.0, 6.4, 6.8, 7.2, 7.6, 8.0, 8.4, 8.8, 9.2, 9.6, 10.0, 10.4],
     [60.4, 61.2, 59.8, 58.2, 57.6, 56.4, 55.6, 55.8, 53.6, 51.4, 48.6, 46.2, 44.0, 41.6, 39.8, 37.6, 35.0, 32.0, 28.6, 25.4, 22.4, 19.6, 17.2, 14.6, 12.8, 10.4, 8.4]),
    ([1.8, 2.1, 2.4, 2.7, 3.0, 3.3, 3.6, 3.9, 4.2, 4.5, 4.8, 5.1, 5.4, 5.7, 6.0, 6.5, 7.0, 7.5, 8.0, 8.4, 8.8, 9.28],
     [58.0, 56.6, 55.0, 53.2, 51.0, 48.8, 46.6, 43.0, 38.4, 33.0, 28.0, 23.6, 18.8, 14.6, 13.6, 13.4, 13.1, 12.8, 12.4, 11.6, 9.0, 6.2]),
    ([-0.6, -0.3, 0.0, 0.3, 0.6, 0.9, 1.2, 1.5, 1.8, 2.1, 2.4, 2.7, 3.0, 3.3, 3.6, 3.9, 4.2, 4.5, 4.8, 5.1, 5.4, 5.7, 6.0, 6.3, 6.6, 6.9],
     [56.4, 55.6, 55.0, 54.0, 53.6, 54.8, 55.6, 54.6, 53.4, 51.0, 48.6, 46.2, 43.4, 41.0, 38.8, 35.8, 33.4, 31.0, 28.6, 26.4, 24.6, 22.0, 20.2, 18.0, 16.4, 14.4]),
    ([-0.8, -0.5, -0.2, 0.1, 0.4, 0.7, 1.0, 1.3, 1.6, 1.9, 2.2, 2.5, 2.8, 3.1, 3.4, 3.7, 4.0, 4.3, 4.6, 4.9, 5.2, 5.5, 5.8, 6.1, 6.4, 6.7, 7.0, 7.3, 7.6],
     [58.0, 57.4, 56.6, 56.0, 55.2, 55.8, 56.6, 56.0, 57.0, 58.4, 57.6, 55.0, 51.6, 49.0, 46.8, 43.6, 40.0, 37.8, 35.0, 32.0, 30.0, 27.8, 25.6, 23.2, 21.4, 19.0, 16.6, 13.6, 11.4]),
    ([2.0, 2.3, 2.6, 2.9, 3.2, 3.5, 3.8, 4.1, 4.4, 4.7, 5.0, 5.3, 5.6, 5.9, 6.2, 6.5, 6.8, 7.1, 7.4, 7.7, 8.0, 8.3, 8.6, 8.9, 9.2, 9.5, 9.8, 10.1, 10.4, 10.76],
     [59.8, 59.2, 57.0, 56.2, 56.8, 55.6, 54.6, 52.4, 50.4, 48.0, 46.4, 44.0, 42.0, 39.8, 37.2, 35.4, 33.0, 30.4, 28.2, 25.6, 23.4, 21.2, 19.0, 17.0, 15.0, 13.2, 11.6, 10.0, 8.6, 7.6]),
    ([-0.2, 0.1, 0.4, 0.7, 1.0, 1.3, 1.6, 1.9, 2.2, 2.5, 2.8, 3.1, 3.4, 3.7, 4.0, 4.3, 4.6, 4.9, 5.2, 5.5, 5.8, 6.1, 6.4, 6.7, 7.0, 7.3, 7.6, 7.9],
     [55.2, 56.0, 57.4, 56.6, 58.0, 59.2, 60.6, 61.4, 59.8, 58.6, 56.0, 52.6, 48.4, 45.0, 41.6, 39.0, 36.2, 33.8, 30.6, 28.0, 25.4, 22.6, 20.0, 17.6, 15.4, 13.0, 11.2, 9.4]),
]

B_DOT_T = [2.87, 3.24, 3.66, 3.43, 2.37, 3.52, 3.19, 2.82, 2.25, 2.55, 2.72, 3.39, 3.60, 2.11, 1.98, 2.38, 2.55, 2.26,
           1.83, 2.53, 2.81, 2.96, 3.24, 3.53, 2.11, 2.29, 2.82]
B_DOT_V = [56.6, 56.6, 56.6, 55.0, 53.6, 53.4, 52.3, 51.8, 50.1, 50.2, 50.2, 50.2, 50.2, 48.7, 48.2, 48.3, 47.4, 46.9,
           46.4, 45.3, 46.0, 46.9, 43.8, 43.8, 43.0, 42.0, 39.8]
B_MEAN, B_LO, B_HI = 2.70, 1.98, 3.50
B_LABELS = ['Stopping vehicles (Low initial speed)', 'Stopping vehicles (High initial speed)',
            'Final decision point']

SPEED_LIMIT = 55
LW = 2.7


def setup_axes(ax):
    ax.set_xlim(-4, 12)
    ax.set_ylim(0, 90)
    ax.set_xticks(X_TICKS)
    ax.set_yticks(Y_TICKS)
    ax.grid(True, color=GRID, lw=1.5, zorder=0)
    ax.set_axisbelow(True)
    for s in ax.spines.values():
        s.set_color(GRID)
        s.set_linewidth(1.5)
    ax.tick_params(axis='x', length=0, pad=14, labelsize=20)
    ax.tick_params(axis='y', length=0, pad=16, labelsize=20)
    ax.text(-0.068, 0.5, 'Speed (km/h)', rotation=90, ha='center', va='center',
            transform=ax.transAxes, fontsize=20)
    ax.text(0.487, -0.118, 'Time (sec)', ha='center', va='center',
            transform=ax.transAxes, fontsize=20)


def draw_event_lines(ax, solid_orange):
    if solid_orange:
        ax.axvline(0, color=ORANGE, lw=5, zorder=4)
    else:
        ax.axvline(0, color='#BFBFBF', lw=1.5, zorder=1)
        ax.axvline(0, color=ORANGE, lw=5, ls=(0, (2.2, 4.6)), dash_capstyle='round', zorder=4)
    ax.axvline(4, color=RED, lw=3.8, ls=(0, (3.6, 5.2, 0.01, 5.2)), dash_capstyle='round', zorder=4)


def draw_band(ax, mean, lo, hi, top, bottom, ytop_dot, ybot_dot, yarrow, txt_x, txt_y):
    ax.plot([mean, mean], [bottom, top], color=PURPLE, lw=2.4, zorder=5)
    for xx in (lo, hi):
        ax.plot([xx, xx], [ybot_dot, ytop_dot], color=PURPLE, lw=1.8, ls=(0, (0.6, 1.2)), zorder=5)
    ax.annotate('', xy=(hi, yarrow), xytext=(lo, yarrow),
                arrowprops=dict(arrowstyle='<|-|>', color=PURPLE, lw=1.5, mutation_scale=22,
                                shrinkA=0, shrinkB=0), zorder=5)
    ax.text(txt_x, txt_y, 'mean\u00b11.96std.', ha='center', va='center', fontsize=20, zorder=6)


def draw_legend(ax, box, rows, handle_x, dot_x, text_x, colors, labels):
    x0, x1, y0, y1 = box
    ax.add_patch(Rectangle((x0, y0), x1 - x0, y1 - y0, facecolor='white', edgecolor='black',
                           lw=2.5, zorder=10, clip_on=False))
    for y, c, lab in zip(rows[:2], colors, labels[:2]):
        ax.plot(handle_x, [y, y], color=c, lw=3, zorder=11, clip_on=False)
        ax.text(text_x, y, lab, ha='left', va='center', fontsize=20, zorder=11)
    ax.plot([dot_x], [rows[2]], 'o', color=PURPLE, ms=6, zorder=11, clip_on=False)
    ax.text(text_x, rows[2], labels[2], ha='left', va='center', fontsize=20, zorder=11)


fig = plt.figure(figsize=(11.69, 13.57), dpi=100)

# panel frames
fig.patches.append(Rectangle((7 / 1169, 1 - 679 / 1357), 1159 / 1169, 675 / 1357, transform=fig.transFigure,
                             fill=False, edgecolor='#D0D0D0', lw=2))
fig.patches.append(Rectangle((7 / 1169, 1 - 1355 / 1357), 1159 / 1169, 674 / 1357, transform=fig.transFigure,
                             fill=False, edgecolor='#D0D0D0', lw=2))

# ---------- (a) ----------
ax1 = fig.add_axes([103 / 1169, 1 - 592 / 1357, 1045 / 1169, 567 / 1357])
setup_axes(ax1)
for t, v in A_LOW_CURVES:
    ax1.plot(t, v, color=GREEN, lw=LW, zorder=2)
for t, v in A_HIGH_CURVES:
    ax1.plot(t, v, color=GRAY, lw=LW, zorder=2)
draw_event_lines(ax1, True)
ax1.axhline(SPEED_LIMIT, color=BLUE, lw=2.4, ls=(0, (3.6, 1.6)), zorder=4)
draw_band(ax1, A_MEAN, A_LO, A_HI, 57.8, 28.4, 65.0, 20.5, 21.4, 2.76, 17.3)
ax1.plot(A_DOT_T, A_DOT_V, 'o', color=PURPLE, ms=7, zorder=6)
ax1.text(12, 57.6, 'Speed limit at 56 km/h (35 mph)', ha='right', va='center', fontsize=20, zorder=6)
ax1.text(0.08, 82.9, 'Start of\nflashing lights', ha='center', va='center', fontsize=20, zorder=6,
         linespacing=1.15)
ax1.text(4.09, 82.9, 'Start of gates\ndescent', ha='center', va='center', fontsize=20, zorder=6,
         linespacing=1.15)
ax1.text(-3.4, 85.3, '(a)', ha='center', va='center', fontsize=20, fontweight='bold', zorder=6)
draw_legend(ax1, (4.09, 12.0, 0.2, 20.0), [16.0, 9.7, 3.3], [4.17, 4.98], 4.62, 5.05,
            [GREEN, GRAY], A_LABELS)

# ---------- (b) ----------
ax2 = fig.add_axes([100 / 1169, 1 - 1275 / 1357, 1048 / 1169, 570 / 1357])
setup_axes(ax2)
for t, v in B_LOW_CURVES:
    ax2.plot(t, v, color=RED_CURVE, lw=LW, zorder=2)
for t, v in B_HIGH_CURVES:
    ax2.plot(t, v, color=GRAY, lw=LW, zorder=2)
draw_event_lines(ax2, False)
ax2.axhline(SPEED_LIMIT, color=LIGHT_BLUE, lw=2.4, ls=(0, (3.6, 1.6)), zorder=4)
draw_band(ax2, B_MEAN, B_LO, B_HI, 61.8, 31.9, 67.5, 26.0, 65.6, 2.67, 70.3)
ax2.plot(B_DOT_T, B_DOT_V, 'o', color=PURPLE, ms=7, zorder=6)
ax2.text(11.95, 58.5, 'Speed limit at 56 km/h (35 mph)', ha='right', va='center', fontsize=20, zorder=6)
ax2.text(0.02, 5.6, 'Start of\nflashing lights', ha='center', va='center', fontsize=20, zorder=6,
         linespacing=1.15)
ax2.text(3.98, 5.6, 'Start of gates\ndescent', ha='center', va='center', fontsize=20, zorder=6,
         linespacing=1.15)
ax2.text(-3.4, 85.1, '(b)', ha='center', va='center', fontsize=20, fontweight='bold', zorder=6)
draw_legend(ax2, (4.06, 11.98, 70.3, 90.0), [86.1, 79.3, 73.3], [4.4, 5.24], 4.82, 5.31,
            [RED_CURVE, GRAY], B_LABELS)

fig.savefig('out.png', dpi=100)
